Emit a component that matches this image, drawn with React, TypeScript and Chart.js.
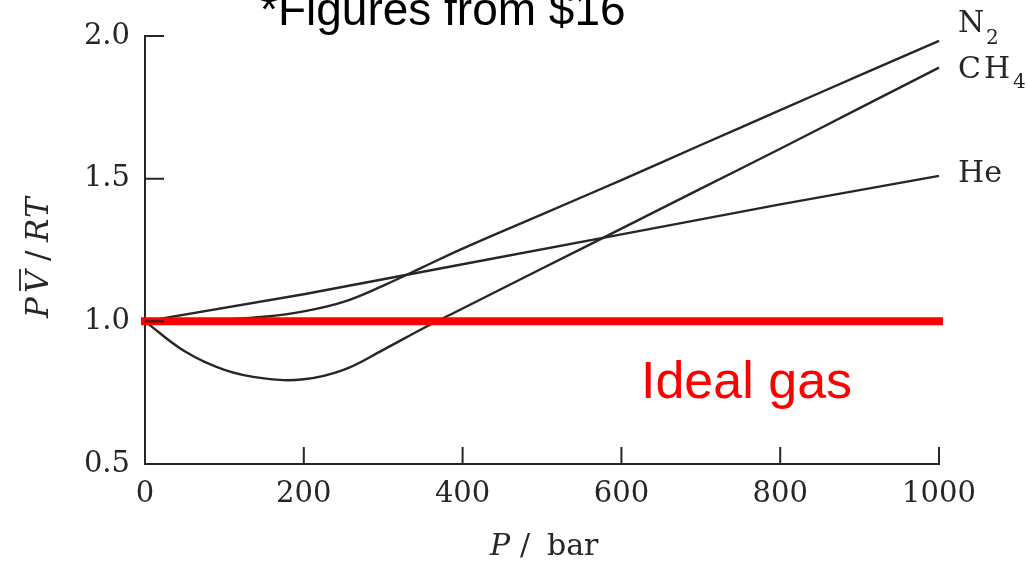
import React, { useEffect, useRef } from "react";
import { Chart, registerables } from "chart.js";

Chart.register(...registerables);

// ---- data ----
const pressureTicks = [0, 200, 400, 600, 800, 1000];
const zTicks = [0.5, 1.0, 1.5, 2.0];

const n2P = [0, 50, 100, 150, 200, 250, 300, 350, 400, 500, 600, 700, 800, 900, 1000];
const n2Z = [1.0, 1.002, 1.007, 1.016, 1.035, 1.068, 1.125, 1.19, 1.255, 1.375, 1.495, 1.618, 1.74, 1.862, 1.983];

const ch4P = [0, 50, 100, 150, 200, 250, 300, 350, 400, 500, 600, 700, 800, 900, 1000];
const ch4Z = [1.0, 0.895, 0.83, 0.8, 0.797, 0.83, 0.9, 0.975, 1.045, 1.185, 1.325, 1.465, 1.605, 1.747, 1.889];

const heP = [0, 200, 400, 600, 800, 1000];
const heZ = [1.0, 1.095, 1.2, 1.305, 1.41, 1.51];

const idealP = [0, 1000];
const idealZ = [1.0, 1.0];

const topNote = "*Figures from $16";
const idealLabel = "Ideal gas";

const SERIF = "'DejaVu Serif', serif";
const SANS = "'Liberation Sans', Arial, sans-serif";
const INK = "#262626";

const toXY = (xs: number[], ys: number[]) => xs.map((x, i) => ({ x, y: ys[i] }));

const decorPlugin = {
  id: "decor",
  afterDraw(chart: any) {
    const { ctx, chartArea, scales } = chart;
    const xs = scales.x;
    const ys = scales.y;
    ctx.save();
    // inward tick marks
    ctx.strokeStyle = INK;
    ctx.lineWidth = 2;
    ctx.beginPath();
    pressureTicks.forEach((v) => {
      if (v === 0) return;
      const px = xs.getPixelForValue(v);
      ctx.moveTo(px, chartArea.bottom);
      ctx.lineTo(px, chartArea.bottom - 17);
    });
    zTicks.forEach((v) => {
      if (v === 0.5) return;
      const py = ys.getPixelForValue(v);
      ctx.moveTo(chartArea.left, py);
      ctx.lineTo(chartArea.left + 19, py);
    });
    ctx.stroke();

    ctx.fillStyle = INK;
    ctx.textBaseline = "alphabetic";
    ctx.textAlign = "left";

    // x-axis title: P / bar
    ctx.font = `italic 30px ${SERIF}`;
    ctx.fillText("P", 490, 555);
    ctx.font = `30px ${SERIF}`;
    ctx.fillText("/", 520, 555);
    ctx.fillText("bar", 547, 555);

    // y-axis title: P V̄ / R T (rotated)
    ctx.save();
    ctx.translate(48, 318);
    ctx.rotate(-Math.PI / 2);
    ctx.font = `italic 31px ${SERIF}`;
    ctx.fillText("P", 0, 0);
    ctx.fillText("V", 25, 0);
    ctx.font = `31px ${SERIF}`;
    ctx.fillText("/", 57, 0);
    ctx.font = `italic 31px ${SERIF}`;
    ctx.fillText("R", 76, 0);
    ctx.fillText("T", 100, 0);
    ctx.lineWidth = 1.8;
    ctx.beginPath();
    ctx.moveTo(27, -28);
    ctx.lineTo(49, -28);
    ctx.stroke();
    ctx.restore();

    // series labels
    const lx = xs.getPixelForValue(1000) + 19;
    ctx.font = `30px ${SERIF}`;
    ctx.fillText("N", lx, 32);
    ctx.font = `20px ${SERIF}`;
    ctx.fillText("2", lx + 28, 44);
    ctx.font = `30px ${SERIF}`;
    ctx.fillText("C", lx, 78);
    ctx.fillText("H", lx + 26, 78);
    ctx.font = `20px ${SERIF}`;
    ctx.fillText("4", lx + 55, 88);
    ctx.font = `30px ${SERIF}`;
    ctx.fillText("He", lx, 182);

    // top note
    ctx.fillStyle = "#000000";
    ctx.font = `46px ${SANS}`;
    ctx.fillText(topNote, 260, 25);

    // ideal gas label
    ctx.fillStyle = "#ff0000";
    ctx.font = `52px ${SANS}`;
    ctx.fillText(idealLabel, 641, 398);
    ctx.restore();
  },
};

export default function App() {
  const ref = useRef<HTMLCanvasElement | null>(null);

  useEffect(() => {
    if (!ref.current) return;
    document.body.style.margin = "0";
    document.body.style.background = "#ffffff";
    const lineStyle = {
      borderColor: INK,
      borderWidth: 2.4,
      pointRadius: 0,
      fill: false,
      tension: 0.4,
      clip: false as any,
    };
    const chart = new Chart(ref.current, {
      type: "line",
      data: {
        datasets: [
          {
            label: "Ideal gas",
            data: toXY(idealP, idealZ),
            borderColor: "#ff0000",
            borderWidth: 8,
            borderCapStyle: "square",
            pointRadius: 0,
            fill: false,
            clip: false as any,
            order: 0,
          },
          { label: "N2", data: toXY(n2P, n2Z), ...lineStyle, order: 1 },
          { label: "CH4", data: toXY(ch4P, ch4Z), ...lineStyle, order: 2 },
          { label: "He", data: toXY(heP, heZ), ...lineStyle, tension: 0, order: 3 },
        ],
      },
      options: {
        animation: false,
        responsive: false,
        devicePixelRatio: 1,
        layout: { padding: { left: 0, right: 89, top: 36, bottom: 0 } },
        plugins: {
          legend: { display: false },
          tooltip: { enabled: false },
        },
        scales: {
          x: {
            type: "linear",
            min: 0,
            max: 1000,
            afterBuildTicks: (s: any) => {
              s.ticks = pressureTicks.map((v) => ({ value: v }));
            },
            ticks: {
              color: INK,
              font: { family: SERIF, size: 29 },
              padding: 13,
              maxRotation: 0,
              autoSkip: false,
              callback: (v: any) => String(v),
            },
            grid: { display: false, drawTicks: false },
            border: { display: true, color: INK, width: 2 },
            afterFit: (s: any) => {
              s.height = 101;
            },
          },
          y: {
            type: "linear",
            min: 0.5,
            max: 2.0,
            afterBuildTicks: (s: any) => {
              s.ticks = zTicks.map((v) => ({ value: v }));
            },
            ticks: {
              color: INK,
              font: { family: SERIF, size: 29 },
              padding: 15,
              callback: (v: any) => Number(v).toFixed(1),
            },
            grid: { display: false, drawTicks: false },
            border: { display: true, color: INK, width: 2 },
            afterFit: (s: any) => {
              s.width = 145;
            },
          },
        },
      },
      plugins: [decorPlugin],
    });
    return () => chart.destroy();
  }, []);

  return (
    <div style={{ position: "fixed", left: 0, top: 0, width: 1028, height: 565, background: "#fff" }}>
      <canvas ref={ref} width={1028} height={565} style={{ width: 1028, height: 565, display: "block" }} />
    </div>
  );
}
